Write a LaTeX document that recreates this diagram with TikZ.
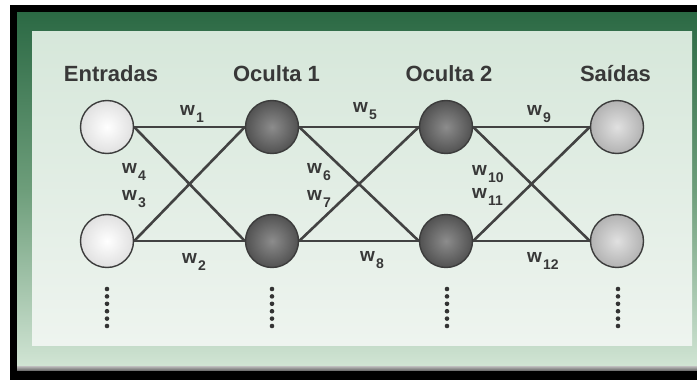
\documentclass[tikz,border=0pt]{standalone}
\usepackage{fontspec}
\setmainfont{Liberation Sans}
\usetikzlibrary{calc}

\definecolor{framedark}{HTML}{2B6944}
\definecolor{framemid}{HTML}{6E9E7B}
\definecolor{framelight}{HTML}{D3E6D6}
\definecolor{paneltop}{HTML}{D6E7DA}
\definecolor{panelbot}{HTML}{EEF4EF}
\definecolor{edgegray}{HTML}{3C3C3C}
\definecolor{linkgray}{HTML}{424242}
\definecolor{textgray}{HTML}{383838}
\definecolor{dotgray}{HTML}{333333}

\newcommand\wsub[1]{w\hspace{1.2pt}\raisebox{-7.5pt}{\fontsize{14}{14}\selectfont #1}}

\pgfdeclarelayer{frame}
\pgfdeclarelayer{links}
\pgfsetlayers{frame,links,main}

\begin{document}
\begin{tikzpicture}[x=1pt,y=-1pt,
  neuron/.style={circle, minimum size=53pt, inner sep=0pt, draw=edgegray, line width=1.4pt},
  inneuron/.style={neuron, shading=radial, inner color=white, outer color=black!12},
  hidneuron/.style={neuron, shading=radial, inner color=black!45, outer color=black!68},
  outneuron/.style={neuron, shading=radial, inner color=black!12, outer color=black!30},
  link/.style={draw=linkgray, line width=2.6pt},
  head/.style={font=\fontsize{22}{22}\selectfont\bfseries, text=textgray, anchor=base, inner sep=0pt},
  wt/.style={font=\fontsize{19}{19}\selectfont\bfseries, text=textgray, anchor=base west, inner sep=0pt},
  dotmark/.style={circle, fill=dotgray, minimum size=4.6pt, inner sep=0pt}
]
\useasboundingbox (0,0) rectangle (697,380);

% frame: black edge, green border fading downwards, mint panel
\begin{pgfonlayer}{frame}
  \fill[white] (0,0) rectangle (697,380);
  \fill[black] (10,5) rectangle (697,380);
  \shade[top color=framedark, bottom color=framelight, middle color=framemid]
    (17,12) rectangle (697,370);
  \shade[top color=black!25, bottom color=black!55] (17,366) rectangle (697,370);
  \shade[top color=paneltop, bottom color=panelbot] (32,31) rectangle (692,345);
\end{pgfonlayer}

% layer titles
\node[head] (hin)  at (111,81)   {Entradas};
\node[head] (hh1)  at (276.5,81) {Oculta 1};
\node[head] (hh2)  at (449,81)   {Oculta 2};
\node[head] (hout) at (615.5,81) {Saídas};

% neurons
\node[inneuron]  (i1) at (107,127) {};
\node[inneuron]  (i2) at (107,241) {};
\node[hidneuron] (a1) at (272,127) {};
\node[hidneuron] (a2) at (272,241) {};
\node[hidneuron] (b1) at (446,127) {};
\node[hidneuron] (b2) at (446,241) {};
\node[outneuron] (o1) at (617,127) {};
\node[outneuron] (o2) at (617,241) {};

% weighted connections
\begin{pgfonlayer}{links}
  \foreach \s/\t in {i1/a1, i2/a2, i1/a2, i2/a1,
                     a1/b1, a2/b2, a1/b2, a2/b1,
                     b1/o1, b2/o2, b1/o2, b2/o1}
    \draw[link] (\s.east) -- (\t.west);
\end{pgfonlayer}

% weight labels
\node[wt] (w1)  at (180,115) {\wsub{1}};
\node[wt] (w2)  at (182,263) {\wsub{2}};
\node[wt] (w4)  at (122,173) {\wsub{4}};
\node[wt] (w3)  at (122,200) {\wsub{3}};
\node[wt] (w5)  at (353,112) {\wsub{5}};
\node[wt] (w6)  at (307,173) {\wsub{6}};
\node[wt] (w7)  at (307,200) {\wsub{7}};
\node[wt] (w8)  at (360,261) {\wsub{8}};
\node[wt] (w9)  at (527,115) {\wsub{9}};
\node[wt] (w10) at (472,175) {\wsub{10}};
\node[wt] (w11) at (472,198) {\wsub{11}};
\node[wt] (w12) at (527,262) {\wsub{12}};

% continuation dots under each layer
\foreach \c/\x in {0/107, 1/272, 2/447, 3/618}
  \foreach \k in {0,...,5}
    \node[dotmark] (d\c\k) at (\x, 289+7.4*\k) {};
\end{tikzpicture}
\end{document}
